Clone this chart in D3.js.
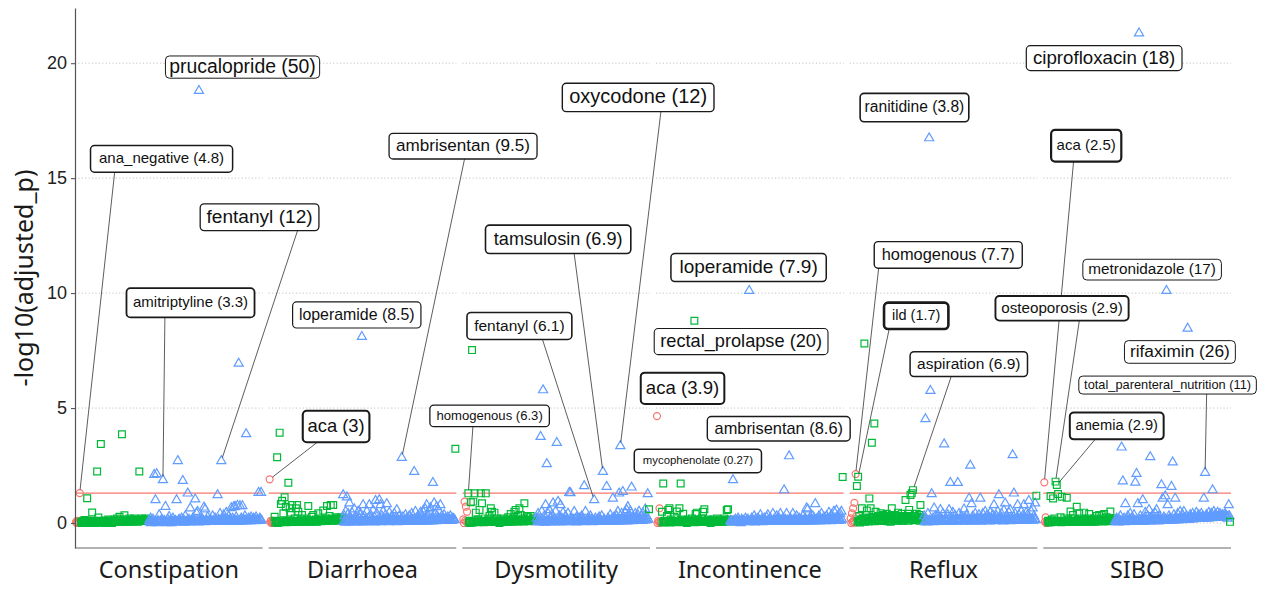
<!DOCTYPE html>
<html>
<head>
<meta charset="utf-8">
<script src="https://cdn.jsdelivr.net/npm/d3@7"></script>
<style>
  body { margin: 0; background: #fff; }
  svg { display: block; }
</style>
</head>
<body>
<svg id="chart"></svg>
<script>
// ---- data ----
const facets = ["Constipation", "Diarrhoea", "Dysmotility", "Incontinence", "Reflux", "SIBO"];
const yTicks = [0, 5, 10, 15, 20];
const threshold = 1.3; // -log10(0.05)

// readable values per outcome and variable group, in plotting order
const constipationRed = [0.05, 0.1, 0, 1.3];
const constipationGreen = [
  0.05, 0, 0.1, 0.13, 0.05, 1.08, 0.1, 0, 0.05, 0.46,
  0.1, 0.05, 0, 2.24, 0.24, 0.1, 3.44, 0.05, 0.1, 0,
  0.1, 0.05, 0.15, 0.05, 0.1, 0, 0.1, 0.15, 0.05, 0.2,
  0.1, 0.27, 0.15, 3.86, 0.1, 0.34, 0.05, 0.15, 0.1, 0.2,
  0.05, 0.15, 0.1, 0.2, 0.1, 0.15, 0.05, 2.24, 0.15, 0.2,
  0.1, 0.15, 0.2, 0.1, 0.15];
const constipationBlue = [
  0.1, 0.2, 0.05, 0.15, 2.1, 1.0, 2.13, 0.1, 0.35, 0.05,
  0.15, 1.87, 0.1, 0.71, 0.05, 0.15, 0.27, 0.1, 0, 0.2,
  0.05, 0.1, 1.0, 2.7, 0.15, 0.05, 0.2, 1.84, 0.1, 0.3,
  0.05, 1.29, 0.15, 0.64, 0.1, 0.2, 0.05, 1.03, 0.43, 0.49,
  18.8, 0.1, 0.2, 0.15, 0.68, 0.6, 0.1, 0.25, 0.05, 0.15,
  0.1, 0.3, 0.05, 0.2, 0.1, 1.22, 0.15, 0.4, 2.7, 0.1,
  0.35, 0.2, 0.45, 0.15, 0.3, 0.1, 0.65, 0.2, 0.7, 0.71,
  0.25, 0.75, 6.94, 0.74, 0.2, 0.74, 0.15, 0.3, 3.87, 0.1,
  0.2, 0.15, 0.25, 0.1, 0.2, 0.15, 0.25, 0.1, 1.32, 0.2, 1.32];

const diarrhoeaRed = [1.9, 0.1, 0.05, 0];
const diarrhoeaGreen = [
  0.27, 0.1, 2.86, 0.05, 3.93, 0.83, 0.97, 0.42, 1.12, 0.71,
  0.1, 1.75, 0.64, 0.45, 0.78, 0.1, 0.2, 0.64, 0.78, 0.49,
  0.05, 0.15, 0.35, 0.1, 0.2, 0.05, 0.15, 0.74, 0.1, 0.05,
  0.27, 0.35, 0.1, 0.15, 0.05, 0.42, 0.1, 0.2, 0.15, 0.54,
  0.1, 0.2, 0.74, 0.15, 0.3, 0.78, 0.2, 0.78, 0.15, 0.25,
  0.1, 0.2, 0.15, 0.25, 0.2];
const diarrhoeaBlue = [
  1.22, 0.3, 0.5, 1.12, 0.4, 0.86, 0.2, 0.45, 0.1, 0.6,
  0.3, 0.15, 0.5, 0.2, 0.4, 8.1, 0.78, 0.3, 0.1, 0.5,
  0.2, 0.78, 0.35, 0.15, 0.55, 0.25, 0.97, 0.4, 0.1, 1.0,
  0.78, 0.3, 0.5, 0.15, 0.35, 0.83, 0.2, 0.45, 0.1, 0.3,
  0.15, 0.4, 0.2, 0.57, 0.1, 0.3, 0.15, 2.84, 0.25, 0.1,
  0.35, 0.2, 0.05, 0.3, 0.15, 0.4, 0.1, 2.23, 0.49, 0.2,
  0.3, 0.1, 0.45, 0.25, 0.5, 0.15, 0.6, 0.78, 0.3, 0.5,
  0.65, 0.2, 1.75, 0.86, 0.4, 0.7, 0.25, 0.5, 0.78, 0.3,
  0.15, 0.35, 0.2, 0.1, 0.25, 0.15, 0.3, 0.1, 0.2, 0.15];

const dysmotilityRed = [0.16, 0.93, 0.71, 0.49];
const dysmotilityGreen = [
  1.29, 0.1, 0.9, 7.52, 0.93, 1.29, 0.45, 0.05, 0.15, 0.57,
  1.29, 0.86, 0.1, 0.2, 1.29, 0.05, 0.15, 0.3, 0.64, 0.49,
  0.1, 0.45, 0.05, 0.2, 0.1, 0, 0.15, 0.05, 0.2, 0.1,
  0.05, 0.15, 0.25, 0.1, 0.39, 0.15, 0.2, 0.49, 0.57, 0.1,
  0.3, 0.64, 0.35, 0.15, 0.2, 0.86, 0.1, 0.3, 0.25, 0.15,
  0.3, 0.1, 0.2, 0.15, 0.1];
const dysmotilityBlue = [
  0.2, 0.4, 0.15, 3.75, 0.5, 5.78, 0.3, 0.78, 2.57, 0.4,
  0.57, 0.2, 0.35, 0.86, 0.15, 0.5, 3.49, 0.93, 0.3, 0.78,
  0.2, 0.45, 0.1, 0.3, 0.15, 0.42, 1.32, 1.3, 0.2, 0.1,
  0.49, 0.15, 0.25, 0.05, 0.2, 0.1, 0.3, 0.15, 1.61, 0.49,
  0.1, 0.2, 0.05, 0.3, 0.15, 0.1, 1.0, 0.2, 0.05, 0.15,
  0.25, 0.1, 0.3, 2.23, 0.15, 0.05, 1.58, 0.2, 0.1, 0.35,
  0.15, 1.07, 0.25, 0.1, 0.3, 0.49, 1.29, 3.35, 0.4, 1.36,
  0.2, 0.45, 0.57, 0.7, 0.3, 0.5, 1.55, 0.25, 0.15, 0.4,
  0.2, 0.35, 0.5, 0.15, 0.3, 0.42, 0.2, 0.6, 0.3, 1.26];

const incontinenceRed = [4.65, 0.1, 0.64, 0.05];
const incontinenceGreen = [
  0.49, 1.72, 0.1, 0.05, 0.3, 0.57, 0.64, 0.15, 0.05, 0.1,
  0.27, 0.05, 0.5, 0.1, 0.64, 1.72, 0.15, 0.4, 0.05, 0.1,
  0, 0.15, 0.05, 0.1, 0.2, 0.05, 8.8, 0.39, 0.45, 0.15,
  0.05, 0.1, 0.2, 0.49, 0.6, 0.1, 0.05, 0.15, 0.1, 0,
  0.05, 0.15, 0.1, 0.05, 0.2, 0.1, 0.05, 0.15, 0.1, 0.05,
  0.2, 0.1, 0.57, 0.6, 0.15];
const incontinenceBlue = [
  0.1, 0.05, 1.87, 0.1, 0.15, 0.05, 0.2, 0.1, 0, 0.15,
  0.1, 0.05, 0.2, 0.1, 0.15, 10.1, 0.05, 0.2, 0.1, 0.3,
  0.15, 0.05, 0.2, 0.1, 0.35, 0.15, 0.05, 0.2, 0.1, 0.25,
  0.35, 0.1, 0.2, 0.05, 0.4, 0.15, 0.1, 0.3, 0.15, 0.2,
  0.4, 0.1, 0.2, 1.43, 0.15, 0.4, 0.1, 2.91, 0.2, 0.05,
  0.4, 0.15, 0.1, 0.3, 0.05, 0.2, 0.1, 0.15, 0.3, 0.1,
  0.2, 0.64, 0.6, 0.15, 0.25, 0.1, 0.3, 0.2, 0.83, 0.15,
  0.1, 0.3, 0.2, 0.4, 0.15, 0.25, 0.1, 0.3, 0.2, 0.45,
  0.15, 0.35, 0.2, 0.5, 0.1, 0.55, 0.3, 0.2, 0.4, 0.5];

const refluxRed = [0.2, 0.42, 0.64, 0.88, 2.13];
const refluxGreen = [
  1.61, 2.01, 0.3, 0.15, 0.64, 0.2, 7.81, 0.35, 0.54, 0.1,
  1.07, 0.64, 3.49, 0.25, 4.33, 0.49, 0.15, 0.3, 0.1, 0.42,
  0.2, 0.35, 0.1, 0.25, 0.4, 0.15, 0.3, 0.05, 0.64, 0.2,
  0.35, 0.1, 0.3, 0.45, 0.15, 0.25, 0.4, 0.1, 0.3, 1.0,
  0.2, 0.4, 0.57, 1.22, 1.29, 1.43, 0.3, 0.15, 0.4, 0.2,
  0.35, 0.78, 0.25, 0.15];
const refluxBlue = [
  0.3, 4.52, 0.15, 0.4, 16.74, 5.75, 1.26, 0.2, 0.64, 0.3,
  0.1, 0.35, 0.2, 0.57, 0.15, 0.4, 3.43, 0.2, 0.1, 0.35,
  0.57, 1.75, 0.2, 0.45, 0.1, 0.3, 0.2, 1.75, 0.4, 0.15,
  0.3, 0.1, 0.6, 0.2, 0.35, 0.15, 1.07, 2.5, 0.83, 0.3,
  0.15, 0.4, 0.2, 0.1, 0.35, 1.07, 0.2, 0.4, 0.15, 0.49,
  0.3, 0.1, 0.25, 0.45, 0.2, 0.35, 0.78, 0.15, 0.3, 0.5,
  1.22, 0.2, 0.4, 0.15, 0.55, 0.86, 0.3, 0.2, 0.45, 0.57,
  0.25, 2.96, 1.29, 0.4, 0.2, 0.78, 0.35, 0.15, 0.5, 0.3,
  0.78, 0.2, 0.45, 0.35, 0.97, 0.2, 0.49, 0.64, 0.3, 0.86];

const siboRed = [1.77, 0.25, 0];
const siboGreen = [
  0.1, 0.05, 1.17, 0.15, 1.07, 0.2, 1.8, 1.65, 1.26, 0.1,
  0.25, 1.14, 0.05, 0.2, 0.1, 1.1, 0.15, 0.05, 0.5, 0.1,
  0.35, 0.2, 0.05, 0.71, 0.15, 0.42, 0.1, 0.2, 0.05, 0.45,
  0.15, 0.1, 0.2, 0.39, 0.05, 0.15, 0.1, 0.2, 0.05, 0.3,
  0.15, 0.35, 0.1, 0.35, 0.2, 0.39, 0.1, 0.25, 0.15, 0.2,
  0.5, 0.1, 0.2, 0.15];
const siboBlue = [
  0.1, 0.2, 0.05, 0.15, 0.3, 3.29, 1.82, 0.2, 0.83, 0.1,
  0.3, 0.15, 0.4, 0.2, 0.1, 0.35, 1.76, 2.14, 0.83, 21.3,
  0.3, 0.15, 1.0, 0.2, 0.45, 0.1, 0.3, 0.57, 2.87, 0.2,
  0.35, 0.15, 0.42, 0.57, 0.2, 0.3, 0.1, 1.65, 1.07, 0.25,
  1.17, 10.1, 0.78, 0.3, 0.15, 1.58, 2.64, 0.35, 1.07, 0.2,
  0.4, 0.15, 0.49, 0.25, 0.35, 0.49, 0.2, 0.3, 8.46, 0.15,
  0.35, 0.25, 0.4, 0.2, 0.3, 0.45, 0.25, 0.35, 0.2, 0.4,
  0.3, 1.07, 2.19, 0.35, 0.25, 0.45, 0.3, 0.4, 1.43, 0.49,
  0.35, 0.3, 0.45, 0.25, 0.4, 0.3, 0.35, 0.25, 0.4, 0.3, 0.2, 0.78];

// the crowded near-zero variables that sit between the readable ones
const constipationRedLow = [0, 0.05, 0, 0.1];
const constipationGreenLow = [
  0, 0.02, 0, 0.05, 0.03, 0, 0.05, 0.02, 0.04, 0,
  0.05, 0.03, 0.06, 0.02, 0.05, 0.04, 0.06, 0.03, 0.05, 0.07,
  0.04, 0.06, 0.05, 0.08, 0.04, 0.06, 0.07, 0.05, 0.08, 0.06,
  0.09, 0.07, 0.05, 0.08, 0.1, 0.06, 0.09, 0.07, 0.1, 0.08,
  0.11, 0.09, 0.07, 0.1, 0.12, 0.08, 0.1, 0.11, 0.09, 0.12,
  0.1, 0.12, 0.11, 0.13, 0.1];
const constipationBlueLow = [
  0.03, 0, 0.05, 0.02, 0.06, 0.04, 0, 0.05, 0.03, 0.07,
  0.02, 0.05, 0.04, 0.06, 0, 0.03, 0.05, 0.02, 0.06, 0.04,
  0.05, 0.07, 0.03, 0.06, 0.04, 0.08, 0.05, 0.02, 0.06, 0.04,
  0.07, 0.05, 0.03, 0.06, 0.08, 0.04, 0.06, 0.05, 0.07, 0.03,
  0.06, 0.08, 0.05, 0.07, 0.04, 0.06, 0.09, 0.05, 0.07, 0.06,
  0.08, 0.05, 0.07, 0.09, 0.06, 0.08, 0.05, 0.07, 0.1, 0.06,
  0.08, 0.07, 0.09, 0.06, 0.1, 0.08, 0.07, 0.09, 0.11, 0.08,
  0.1, 0.07, 0.09, 0.12, 0.08, 0.1, 0.09, 0.11, 0.08, 0.1,
  0.12, 0.09, 0.11, 0.1, 0.13, 0.09, 0.11, 0.12, 0.1, 0.13, 0.11];

const diarrhoeaRedLow = [0.05, 0, 0.1, 0.02];
const diarrhoeaGreenLow = [
  0.02, 0.05, 0, 0.06, 0.03, 0.07, 0.04, 0.05, 0.08, 0.03,
  0.06, 0.04, 0.07, 0.05, 0.09, 0.06, 0.04, 0.08, 0.05, 0.07,
  0.1, 0.06, 0.08, 0.05, 0.09, 0.07, 0.11, 0.08, 0.06, 0.1,
  0.08, 0.12, 0.09, 0.07, 0.11, 0.1, 0.13, 0.08, 0.12, 0.1,
  0.14, 0.11, 0.09, 0.13, 0.12, 0.15, 0.1, 0.14, 0.12, 0.16,
  0.13, 0.15, 0.17, 0.14, 0.16];
const diarrhoeaBlueLow = [
  0.05, 0.02, 0.06, 0.04, 0.07, 0.03, 0.05, 0.08, 0.04, 0.06,
  0.03, 0.07, 0.05, 0.04, 0.08, 0.06, 0.03, 0.07, 0.05, 0.09,
  0.04, 0.06, 0.08, 0.05, 0.07, 0.03, 0.06, 0.09, 0.05, 0.07,
  0.04, 0.08, 0.06, 0.05, 0.09, 0.07, 0.04, 0.06, 0.08, 0.05,
  0.07, 0.1, 0.06, 0.04, 0.08, 0.06, 0.09, 0.05, 0.07, 0.08,
  0.06, 0.1, 0.07, 0.05, 0.09, 0.08, 0.06, 0.1, 0.07, 0.09,
  0.08, 0.11, 0.06, 0.09, 0.1, 0.07, 0.12, 0.08, 0.1, 0.09,
  0.11, 0.08, 0.13, 0.1, 0.09, 0.12, 0.1, 0.14, 0.11, 0.12,
  0.1, 0.13, 0.11, 0.15, 0.12, 0.1, 0.14, 0.12, 0.16, 0.13];

const dysmotilityRedLow = [0, 0.1, 0.05, 0.02];
const dysmotilityGreenLow = [
  0.03, 0, 0.05, 0.02, 0.06, 0.04, 0.07, 0.03, 0.05, 0.08,
  0.04, 0.06, 0.03, 0.07, 0.05, 0.09, 0.04, 0.06, 0.08, 0.05,
  0.07, 0.04, 0.06, 0.09, 0.05, 0.08, 0.06, 0.04, 0.07, 0.1,
  0.06, 0.08, 0.05, 0.09, 0.07, 0.11, 0.06, 0.08, 0.1, 0.07,
  0.09, 0.12, 0.08, 0.1, 0.07, 0.11, 0.09, 0.13, 0.1, 0.08,
  0.12, 0.1, 0.14, 0.11, 0.13];
const dysmotilityBlueLow = [
  0.04, 0.07, 0.03, 0.06, 0.05, 0.08, 0.02, 0.06, 0.04, 0.07,
  0.05, 0.03, 0.08, 0.06, 0.04, 0.07, 0.05, 0.09, 0.03, 0.06,
  0.08, 0.04, 0.07, 0.05, 0.06, 0.09, 0.04, 0.07, 0.05, 0.08,
  0.06, 0.03, 0.07, 0.05, 0.09, 0.06, 0.04, 0.08, 0.06, 0.07,
  0.05, 0.09, 0.06, 0.08, 0.04, 0.07, 0.1, 0.05, 0.08, 0.06,
  0.09, 0.07, 0.05, 0.1, 0.08, 0.06, 0.09, 0.07, 0.11, 0.08,
  0.06, 0.1, 0.08, 0.12, 0.07, 0.09, 0.11, 0.08, 0.1, 0.13,
  0.09, 0.11, 0.08, 0.12, 0.1, 0.14, 0.09, 0.12, 0.11, 0.1,
  0.13, 0.11, 0.15, 0.12, 0.1, 0.14, 0.12, 0.16, 0.13, 0.15];

const incontinenceRedLow = [0, 0.05, 0.02, 0.08];
const incontinenceGreenLow = [
  0.02, 0.05, 0.03, 0.06, 0.04, 0.07, 0.02, 0.05, 0.08, 0.04,
  0.06, 0.03, 0.07, 0.05, 0.04, 0.08, 0.06, 0.03, 0.07, 0.05,
  0.09, 0.04, 0.06, 0.08, 0.05, 0.07, 0.03, 0.06, 0.09, 0.05,
  0.07, 0.04, 0.08, 0.06, 0.1, 0.05, 0.07, 0.09, 0.06, 0.08,
  0.05, 0.1, 0.07, 0.09, 0.06, 0.08, 0.11, 0.07, 0.09, 0.06,
  0.1, 0.08, 0.12, 0.09, 0.07];
const incontinenceBlueLow = [
  0.05, 0.03, 0.07, 0.04, 0.06, 0.08, 0.03, 0.05, 0.07, 0.04,
  0.09, 0.05, 0.06, 0.08, 0.04, 0.07, 0.05, 0.09, 0.06, 0.03,
  0.07, 0.05, 0.08, 0.06, 0.1, 0.04, 0.07, 0.09, 0.05, 0.08,
  0.06, 0.1, 0.07, 0.05, 0.09, 0.06, 0.08, 0.11, 0.07, 0.05,
  0.09, 0.07, 0.1, 0.06, 0.08, 0.11, 0.07, 0.09, 0.06, 0.1,
  0.08, 0.12, 0.07, 0.09, 0.11, 0.08, 0.1, 0.06, 0.09, 0.12,
  0.08, 0.1, 0.07, 0.11, 0.09, 0.13, 0.08, 0.1, 0.12, 0.09,
  0.11, 0.08, 0.13, 0.1, 0.12, 0.09, 0.11, 0.14, 0.1, 0.12,
  0.09, 0.13, 0.11, 0.1, 0.14, 0.12, 0.1, 0.13, 0.11, 0.15];

const refluxRedLow = [0, 0.05, 0.1, 0.02, 0.3];
const refluxGreenLow = [
  0.05, 0.1, 0.02, 0.15, 0.08, 0.2, 0.05, 0.12, 0.18, 0.06,
  0.22, 0.1, 0.15, 0.25, 0.08, 0.18, 0.12, 0.28, 0.1, 0.2,
  0.15, 0.3, 0.12, 0.22, 0.08, 0.25, 0.18, 0.1, 0.28, 0.15,
  0.2, 0.32, 0.12, 0.24, 0.18, 0.1, 0.26, 0.2, 0.14, 0.3,
  0.22, 0.1, 0.28, 0.16, 0.24, 0.12, 0.3, 0.2, 0.15, 0.26,
  0.1, 0.22, 0.18, 0.08];
const refluxBlueLow = [
  0.05, 0.1, 0.03, 0.08, 0.12, 0.06, 0.1, 0.04, 0.09, 0.13,
  0.07, 0.11, 0.05, 0.1, 0.14, 0.08, 0.12, 0.06, 0.1, 0.15,
  0.08, 0.12, 0.05, 0.11, 0.09, 0.14, 0.07, 0.12, 0.1, 0.16,
  0.08, 0.13, 0.06, 0.11, 0.15, 0.09, 0.12, 0.07, 0.14, 0.1,
  0.16, 0.08, 0.12, 0.1, 0.15, 0.07, 0.13, 0.11, 0.17, 0.09,
  0.12, 0.15, 0.08, 0.13, 0.1, 0.16, 0.12, 0.09, 0.14, 0.11,
  0.17, 0.1, 0.13, 0.08, 0.15, 0.12, 0.1, 0.16, 0.13, 0.09,
  0.14, 0.11, 0.17, 0.12, 0.1, 0.15, 0.13, 0.18, 0.11, 0.14,
  0.12, 0.16, 0.1, 0.14, 0.18, 0.12, 0.15, 0.11, 0.17, 0.13];

const siboRedLow = [0.05, 0, 0.1];
const siboGreenLow = [
  0.02, 0.06, 0.03, 0.08, 0.05, 0.1, 0.04, 0.07, 0.05, 0.09,
  0.03, 0.06, 0.08, 0.04, 0.07, 0.1, 0.05, 0.08, 0.06, 0.04,
  0.09, 0.06, 0.11, 0.07, 0.05, 0.09, 0.07, 0.1, 0.06, 0.08,
  0.11, 0.07, 0.09, 0.06, 0.1, 0.08, 0.12, 0.07, 0.09, 0.11,
  0.08, 0.1, 0.13, 0.09, 0.07, 0.11, 0.1, 0.12, 0.08, 0.11,
  0.13, 0.1, 0.12, 0.09];
const siboBlueLow = [
  0.04, 0.08, 0.03, 0.06, 0.1, 0.05, 0.08, 0.04, 0.07, 0.11,
  0.06, 0.09, 0.05, 0.08, 0.12, 0.07, 0.1, 0.06, 0.09, 0.13,
  0.07, 0.11, 0.08, 0.06, 0.12, 0.09, 0.14, 0.08, 0.11, 0.1,
  0.13, 0.09, 0.15, 0.11, 0.08, 0.14, 0.12, 0.1, 0.16, 0.12,
  0.15, 0.1, 0.13, 0.17, 0.12, 0.15, 0.11, 0.18, 0.14, 0.12,
  0.17, 0.15, 0.19, 0.13, 0.16, 0.2, 0.15, 0.18, 0.14, 0.21,
  0.17, 0.2, 0.16, 0.22, 0.18, 0.2, 0.24, 0.19, 0.22, 0.18,
  0.25, 0.21, 0.23, 0.26, 0.2, 0.24, 0.27, 0.22, 0.25, 0.28,
  0.23, 0.26, 0.3, 0.24, 0.28, 0.25, 0.3, 0.27, 0.32, 0.26,
  0.29, 0.3];

// last variable of each outcome (green group), none for Constipation
const greenTail = [null, 3.23, 0.6, 2.0, 1.19, 0.05];

// labelled variables: facet, group, position in that group's array, text
const labelTexts = [
  ["Constipation", "blue", 40, "prucalopride (50)"],
  ["Constipation", "red", 3, "ana_negative (4.8)"],
  ["Constipation", "blue", 58, "fentanyl (12)"],
  ["Constipation", "blue", 11, "amitriptyline (3.3)"],
  ["Diarrhoea", "red", 0, "aca (3)"],
  ["Diarrhoea", "blue", 15, "loperamide (8.5)"],
  ["Diarrhoea", "blue", 47, "ambrisentan (9.5)"],
  ["Dysmotility", "blue", 67, "oxycodone (12)"],
  ["Dysmotility", "blue", 53, "tamsulosin (6.9)"],
  ["Dysmotility", "blue", 46, "fentanyl (6.1)"],
  ["Dysmotility", "green", 0, "homogenous (6.3)"],
  ["Incontinence", "blue", 15, "loperamide (7.9)"],
  ["Incontinence", "green", 26, "rectal_prolapse (20)"],
  ["Incontinence", "red", 0, "aca (3.9)"],
  ["Incontinence", "blue", 47, "ambrisentan (8.6)"],
  ["Incontinence", "blue", 2, "mycophenolate (0.27)"],
  ["Reflux", "blue", 4, "ranitidine (3.8)"],
  ["Reflux", "red", 4, "homogenous (7.7)"],
  ["Reflux", "green", 1, "ild (1.7)"],
  ["Reflux", "green", 45, "aspiration (6.9)"],
  ["SIBO", "blue", 19, "ciprofloxacin (18)"],
  ["SIBO", "red", 0, "aca (2.5)"],
  ["SIBO", "green", 6, "osteoporosis (2.9)"],
  ["SIBO", "green", 7, "anemia (2.9)"],
  ["SIBO", "blue", 41, "metronidazole (17)"],
  ["SIBO", "blue", 58, "rifaximin (26)"],
  ["SIBO", "blue", 72, "total_parenteral_nutrition (11)"]
];

// repelled label placement (x in sequence units, y in -log10 units) and look
const labelLayout = [
  {lx: 268.2, ly: 19.83, size: 19.4, padX: 3.8, padY: 1.9, lw: 1.0, anchor: 0.5},
  {lx: 137.8, ly: 15.84, size: 15.0, padX: 8.5, padY: 6.2, lw: 1.5, anchor: 0.17},
  {lx: 295.6, ly: 13.3, size: 19.1, padX: 6.3, padY: 4.3, lw: 1.3, anchor: 0.82},
  {lx: 184.4, ly: 9.58, size: 15.0, padX: 6.5, padY: 7.5, lw: 1.8, anchor: 0.30},
  {lx: 106.6, ly: 4.2, size: 18.4, padX: 4.7, padY: 7.0, lw: 2.1, anchor: 0.22},
  {lx: 139.8, ly: 9.05, size: 15.9, padX: 6.3, padY: 5.5, lw: 1.2, anchor: 0.5},
  {lx: 310.4, ly: 16.39, size: 17.1, padX: 7.0, padY: 4.7, lw: 1.3, anchor: 0.51},
  {lx: 280.6, ly: 18.51, size: 20.0, padX: 6.9, padY: 4.7, lw: 1.4, anchor: 0.65},
  {lx: 152.2, ly: 12.34, size: 18.1, padX: 8.3, padY: 5.6, lw: 1.6, anchor: 0.61},
  {lx: 90.0, ly: 8.57, size: 15.5, padX: 7.2, padY: 6.1, lw: 1.6, anchor: 0.72},
  {lx: 42.2, ly: 4.66, size: 13.1, padX: 6.6, padY: 4.6, lw: 1.3, anchor: 0.36},
  {lx: 147.0, ly: 11.11, size: 19.0, padX: 8.5, padY: 5.0, lw: 1.5, anchor: 0.5},
  {lx: 135.0, ly: 7.89, size: 18.2, padX: 6.0, padY: 4.4, lw: 1.1, anchor: 0.5},
  {lx: 41.0, ly: 5.86, size: 18.6, padX: 5.1, padY: 6.8, lw: 2.0, anchor: 0.5},
  {lx: 195.4, ly: 4.1, size: 16.4, padX: 7.2, padY: 4.4, lw: 1.4, anchor: 0.5},
  {lx: 65.6, ly: 2.7, size: 11.4, padX: 8.5, padY: 6.3, lw: 1.5, anchor: 0.5},
  {lx: 102.4, ly: 18.07, size: 15.6, padX: 4.5, padY: 6.8, lw: 1.6, anchor: 0.5},
  {lx: 156.6, ly: 11.66, size: 16.4, padX: 7.5, padY: 5.5, lw: 1.4, anchor: 0.03},
  {lx: 105.2, ly: 9.01, size: 14.5, padX: 8.0, padY: 6.3, lw: 2.6, anchor: 0.08},
  {lx: 189.6, ly: 6.91, size: 15.5, padX: 7.0, padY: 5.1, lw: 1.5, anchor: 0.35},
  {lx: 96.0, ly: 20.22, size: 18.7, padX: 6.7, padY: 3.6, lw: 1.2, anchor: 0.5},
  {lx: 67.2, ly: 16.41, size: 15.0, padX: 5.5, padY: 8.7, lw: 2.2, anchor: 0.32},
  {lx: 28.4, ly: 9.34, size: 15.2, padX: 5.8, padY: 5.1, lw: 1.9, anchor: 0.63},
  {lx: 116.2, ly: 4.22, size: 14.7, padX: 5.7, padY: 6.4, lw: 2.0, anchor: 0.27},
  {lx: 173.0, ly: 11.02, size: 15.3, padX: 5.5, padY: 3.1, lw: 1.0, anchor: 0.5},
  {lx: 217.6, ly: 7.44, size: 17.3, padX: 5.5, padY: 3.1, lw: 1.0, anchor: 0.5},
  {lx: 197.8, ly: 6.0, size: 12.8, padX: 5.3, padY: 2.9, lw: 1.0, anchor: 0.72}
];

// ---- chart ----
const width = 1269, height = 590;
const svg = d3.select("#chart").attr("width", width).attr("height", height);

const groups = {
  red: {color: "#F8766D", shape: d3.symbolCircle, size: 38},
  green: {color: "#00BA38", shape: d3.symbolSquare, size: 46},
  blue: {color: "#619CFF", shape: d3.symbolTriangle, size: 36}
};

const byFacet = [
  {red: [constipationRed, constipationRedLow], green: [constipationGreen, constipationGreenLow], blue: [constipationBlue, constipationBlueLow]},
  {red: [diarrhoeaRed, diarrhoeaRedLow], green: [diarrhoeaGreen, diarrhoeaGreenLow], blue: [diarrhoeaBlue, diarrhoeaBlueLow]},
  {red: [dysmotilityRed, dysmotilityRedLow], green: [dysmotilityGreen, dysmotilityGreenLow], blue: [dysmotilityBlue, dysmotilityBlueLow]},
  {red: [incontinenceRed, incontinenceRedLow], green: [incontinenceGreen, incontinenceGreenLow], blue: [incontinenceBlue, incontinenceBlueLow]},
  {red: [refluxRed, refluxRedLow], green: [refluxGreen, refluxGreenLow], blue: [refluxBlue, refluxBlueLow]},
  {red: [siboRed, siboRedLow], green: [siboGreen, siboGreenLow], blue: [siboBlue, siboBlueLow]}
];

// sequence of variables per facet; each readable value is followed by a crowded near-zero one
const series = facets.map((f, i) => {
  let pts = [];
  ["red", "green", "blue"].forEach(group => {
    const [main, low] = byFacet[i][group];
    main.forEach((v, k) => {
      pts.push({group: group, value: v, key: group + k});
      pts.push({group: group, value: low[k]});
    });
  });
  if (greenTail[i] !== null) pts.push({group: "green", value: greenTail[i]});
  pts.forEach((p, k) => { p.index = k; p.facet = f; });
  return pts;
});

const fx = d3.scaleBand().domain(facets).range([75, 1231]).paddingInner(0.031);
const y = d3.scaleLinear().domain([-1.087, 22.4]).range([548, 8]);
const xScales = {};
facets.forEach((f, i) => {
  xScales[f] = d3.scaleLinear()
    .domain([0, series[i].length - 1])
    .range([fx(f) + 1, fx(f) + fx.bandwidth() - 1]);
});

// panel grid, threshold and bottom axis line
const panels = svg.append("g").attr("class", "panels")
  .selectAll("g")
  .data(facets)
  .enter()
  .append("g")
  .attr("transform", f => "translate(" + fx(f) + ",0)");

panels.selectAll("line.grid")
  .data(yTicks)
  .enter()
  .append("line")
  .attr("class", "grid")
  .attr("x1", 0)
  .attr("x2", fx.bandwidth())
  .attr("y1", d => y(d))
  .attr("y2", d => y(d))
  .attr("stroke", "#c4c4c4")
  .attr("stroke-width", 1)
  .attr("stroke-dasharray", "1.2,2.2");

panels.append("line")
  .attr("x1", 0)
  .attr("x2", fx.bandwidth())
  .attr("y1", y(threshold))
  .attr("y2", y(threshold))
  .attr("stroke", "#F8766D")
  .attr("stroke-width", 1.3);

panels.append("line")
  .attr("x1", 0)
  .attr("x2", fx.bandwidth())
  .attr("y1", 548)
  .attr("y2", 548)
  .attr("stroke", "#666")
  .attr("stroke-width", 1.2);

panels.append("text")
  .attr("x", fx.bandwidth() / 2)
  .attr("y", 578)
  .attr("text-anchor", "middle")
  .style("font-family", "'Noto Sans', sans-serif")
  .style("font-size", "23.5px")
  .style("fill", "#1a1a1a")
  .text(f => f);

// points
const pointLayer = svg.append("g").attr("class", "points");
series.forEach(pts => {
  pointLayer.append("g")
    .selectAll("path")
    .data(pts)
    .enter()
    .append("path")
    .attr("d", p => d3.symbol().type(groups[p.group].shape).size(groups[p.group].size)())
    .attr("transform", p => "translate(" + xScales[p.facet](p.index) + "," + y(p.value) + ")")
    .attr("fill", "none")
    .attr("stroke", p => groups[p.group].color)
    .attr("stroke-width", 1.2);
});

// y axis
const yAxis = svg.append("g")
  .attr("transform", "translate(75,0)")
  .call(d3.axisLeft(y).tickValues(yTicks).tickSize(4).tickSizeOuter(0).tickPadding(4));
yAxis.select(".domain").attr("stroke", "#555").attr("stroke-width", 1.2);
yAxis.selectAll(".tick line").attr("stroke", "#555").attr("stroke-width", 1.1);
yAxis.selectAll(".tick text")
  .style("font-family", "'Liberation Sans', Arial, sans-serif")
  .style("font-size", "18px")
  .style("fill", "#222");

svg.append("text")
  .attr("transform", "translate(24,278) rotate(-90)")
  .attr("text-anchor", "middle")
  .attr("dy", "0.35em")
  .style("font-family", "'Noto Sans', sans-serif")
  .style("font-size", "25px")
  .style("fill", "#1a1a1a")
  .text("-log10(adjusted_p)");

// repelled labels
const labelData = labelTexts.map((t, i) => {
  const [facet, group, pos, text] = t;
  const fi = facets.indexOf(facet);
  const p = series[fi].find(q => q.key === group + pos);
  return Object.assign({
    text: text,
    px: xScales[facet](p.index),
    py: y(p.value),
    cx: xScales[facet](labelLayout[i].lx),
    cy: y(labelLayout[i].ly)
  }, labelLayout[i]);
});

const segLayer = svg.append("g").attr("class", "segments");
const boxLayer = svg.append("g").attr("class", "labels");

labelData.forEach(d => {
  const g = boxLayer.append("g");
  const rect = g.append("rect");
  const txt = g.append("text")
    .attr("x", d.cx)
    .attr("y", d.cy + d.size * 0.3)
    .attr("text-anchor", "middle")
    .style("font-family", "'Liberation Sans', Arial, sans-serif")
    .style("font-size", d.size + "px")
    .style("fill", "#111")
    .text(d.text);
  const tw = txt.node().getComputedTextLength();
  const w = tw + 2 * d.padX;
  const h = d.size * 0.95 + 2 * d.padY;
  const x0 = d.cx - w / 2, y0 = d.cy - h / 2;
  rect.attr("x", x0).attr("y", y0)
    .attr("width", w).attr("height", h)
    .attr("rx", 4).attr("ry", 4)
    .attr("fill", "#fff")
    .attr("stroke", "#1a1a1a")
    .attr("stroke-width", d.lw);

  // only far points get a segment, as ggrepel does
  const ox = Math.max(x0 - d.px, 0, d.px - (x0 + w));
  const oy = Math.max(y0 - d.py, 0, d.py - (y0 + h));
  if (Math.sqrt(ox * ox + oy * oy) > 18) {
    const sx = x0 + d.anchor * w, sy = y0 + h;
    const dx = d.px - sx, dy = d.py - sy;
    const dist = Math.sqrt(dx * dx + dy * dy);
    const k = (dist - 3.5) / dist;
    segLayer.append("line")
      .attr("x1", sx).attr("y1", sy)
      .attr("x2", sx + dx * k).attr("y2", sy + dy * k)
      .attr("stroke", "#333")
      .attr("stroke-width", 0.8);
  }
});
</script>
</body>
</html>
